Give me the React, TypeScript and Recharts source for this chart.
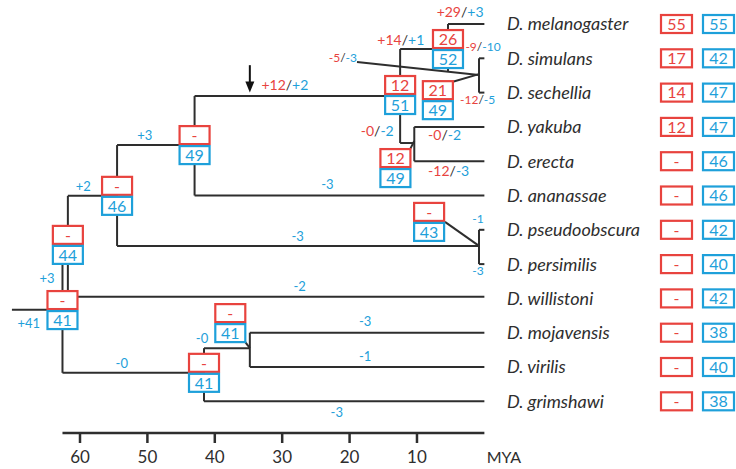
import React from 'react';
import { ComposedChart, XAxis, YAxis, Scatter, ReferenceLine } from 'recharts';

const RED = '#e8433e';
const BLUE = '#1ea0da';
const INK = '#2e2e2e';
const FONT = 'Lato, "Noto Sans", "DejaVu Sans", sans-serif';

// Tips (top to bottom)
const species = [
  'D. melanogaster', 'D. simulans', 'D. sechellia', 'D. yakuba', 'D. erecta',
  'D. ananassae', 'D. pseudoobscura', 'D. persimilis', 'D. willistoni',
  'D. mojavensis', 'D. virilis', 'D. grimshawi',
];
const tipRed = ['55', '17', '14', '12', '-', '-', '-', '-', '-', '-', '-', '-'];
const tipBlue = ['55', '42', '47', '47', '46', '46', '42', '40', '42', '38', '40', '38'];
const tipRows = species.map((_, i) => i);

// time axis (million years ago)
const axisTicks = [60, 50, 40, 30, 20, 10];
const unitTick = -2.9;
const unitLabel = 'MYA';
const rootAge = 62.6;

// tree branches: [ageFrom, rowFrom, ageTo, rowTo]
const branches: [number, number, number, number][] = [
  [70.1, 8.33, 62.6, 8.33],
  [62.6, 6.44, 62.6, 10.17],
  [61.8, 5.01, 61.8, 7.95],
  [62.6, 7.95, 0, 7.95],
  [61.8, 5.01, 54.5, 5.01],
  [54.5, 3.53, 54.5, 6.47],
  [54.5, 6.47, 0.8, 6.47],
  [0.8, 6, 0.8, 7],
  [0.8, 6, 0, 6],
  [0.8, 7, 0, 7],
  [54.5, 3.53, 43.0, 3.53],
  [43.0, 2.1, 43.0, 5],
  [43.0, 5, 0, 5],
  [43.0, 2.1, 12.5, 2.1],
  [12.5, 0.73, 12.5, 3.47],
  [12.5, 3.47, 10.4, 3.47],
  [10.4, 3, 10.4, 4],
  [10.4, 3, 0, 3],
  [10.4, 4, 0, 4],
  [12.5, 0.73, 5.4, 0.73],
  [5.4, 0, 5.4, 1.4],
  [5.4, 0, 0, 0],
  [18.9, 1.11, 0.8, 1.49],
  [0.8, 1, 0.8, 2],
  [0.8, 1, 0, 1],
  [0.8, 2, 0, 2],
  [4.8, 1.69, 0.8, 1.46],
  [11.0, 3.64, 10.4, 3.41],
  [5.85, 5.77, 0.8, 6.47],
  [62.6, 10.17, 41.6, 10.17],
  [41.6, 9.45, 41.6, 11],
  [41.6, 11, 0, 11],
  [41.6, 9.45, 34.8, 9.45],
  [34.8, 9, 34.8, 10],
  [34.8, 9, 0, 9],
  [34.8, 10, 0, 10],
  [35.5, 9.27, 34.8, 9.45],
];

// marker arrow
const arrowAge = 34.8;
const arrowFrom = 1.2;
const arrowTo = 2.0;

// internal node boxes: gains (red) / counts (blue)
const nodeAges = [62.6, 61.8, 54.5, 43.0, 41.6, 37.7, 12.5, 13.2, 5.4, 6.9, 8.2];
const nodeRows = [8.34, 6.44, 5.01, 3.53, 10.17, 8.72, 2.07, 4.2, 0.73, 2.22, 5.77];
const nodeRed = ['-', '-', '-', '-', '-', '-', '12', '12', '26', '21', '-'];
const nodeBlue = ['41', '44', '46', '49', '41', '41', '51', '49', '52', '49', '43'];

// branch change labels (red / blue pairs)
const pairAges = [3.6, 12.4, 29.6, 15.9, 5.9, 5.3];
const pairRows = [-0.35, 0.47, 1.78, 3.12, 3.24, 4.29];
const pairRed = ['+29', '+14', '+12', '-0', '-0', '-12'];
const pairBlue = ['+3', '+1', '+2', '-2', '-2', '-3'];

const smallPairAges = [0.2, 21.0, 1.0];
const smallPairRows = [0.67, 0.99, 2.22];
const smallPairRed = ['-9', '-5', '-12'];
const smallPairBlue = ['-10', '-3', '-5'];

// blue-only labels
const blueAges = [50.4, 59.5, 23.3, 27.7, 27.4, 64.9, 67.6, 53.8, 41.9, 17.7, 17.7, 21.9];
const blueRows = [3.24, 4.72, 4.66, 6.18, 7.64, 7.41, 8.72, 9.88, 9.15, 8.66, 9.68, 11.31];
const blueText = ['+3', '+2', '-3', '-3', '-2', '+3', '+41', '-0', '-0', '-3', '-1', '-3'];

const tinyBlueAges = [0.95, 0.95];
const tinyBlueRows = [5.69, 7.2];
const tinyBlueText = ['-1', '-3'];

const X_DOMAIN: [number, number] = [-3.06, 71.87];
const Y_DOMAIN: [number, number] = [-0.7, 11.924];

const nodeData = nodeAges.map((x, i) => ({ x, y: nodeRows[i], red: nodeRed[i], blue: nodeBlue[i] }));
const pairData = pairAges.map((x, i) => ({ x, y: pairRows[i], red: pairRed[i], blue: pairBlue[i] }));
const smallPairData = smallPairAges.map((x, i) => ({ x, y: smallPairRows[i], red: smallPairRed[i], blue: smallPairBlue[i] }));
const blueData = blueAges.map((x, i) => ({ x, y: blueRows[i], text: blueText[i] }));
const tinyBlueData = tinyBlueAges.map((x, i) => ({ x, y: tinyBlueRows[i], text: tinyBlueText[i] }));
const arrowData = [{ x: arrowAge, y: arrowTo }];

const NodeBox = (p: any) => {
  const { cx, cy, payload } = p;
  if (cx == null || cy == null) return null;
  return (
    <g>
      <rect x={cx - 15} y={cy - 19} width={30} height={18} fill="#fff" stroke={RED} strokeWidth={2.2} />
      <rect x={cx - 15} y={cy + 1} width={30} height={18} fill="#fff" stroke={BLUE} strokeWidth={2.2} />
      <text x={cx} y={cy - 10} dy="0.36em" textAnchor="middle" fontSize={16} fill={RED} fontFamily={FONT}>{payload.red}</text>
      <text x={cx} y={cy + 10} dy="0.36em" textAnchor="middle" fontSize={16} fill={BLUE} fontFamily={FONT}>{payload.blue}</text>
    </g>
  );
};

const makePair = (size: number) => (p: any) => {
  const { cx, cy, payload } = p;
  if (cx == null || cy == null) return null;
  return (
    <text x={cx} y={cy} dy="0.36em" textAnchor="middle" fontSize={size} fontFamily={FONT}>
      <tspan fill={RED}>{payload.red}</tspan>
      <tspan fill={INK}>/</tspan>
      <tspan fill={BLUE}>{payload.blue}</tspan>
    </text>
  );
};

const makeBlue = (size: number) => (p: any) => {
  const { cx, cy, payload } = p;
  if (cx == null || cy == null) return null;
  return (
    <text x={cx} y={cy} dy="0.36em" textAnchor="middle" fontSize={size} fill={BLUE} fontFamily={FONT}>{payload.text}</text>
  );
};

const ArrowHead = (p: any) => {
  const { cx, cy } = p;
  if (cx == null || cy == null) return null;
  return <path d={`M${cx - 4.5},${cy - 11} L${cx + 4.5},${cy - 11} L${cx},${cy} Z`} fill="#111" />;
};

const SpeciesTick = (props: any) => {
  const { x, y, payload } = props;
  const i = payload.value;
  if (species[i] == null) return null;
  return (
    <g>
      <text x={x} y={y} dy="0.36em" fontSize={18} fontStyle="italic" fill={INK} fontFamily={FONT}>{species[i]}</text>
      <rect x={x + 154} y={y - 9} width={31} height={18} fill="#fff" stroke={RED} strokeWidth={2.2} />
      <text x={x + 169.5} y={y} dy="0.36em" textAnchor="middle" fontSize={16} fill={RED} fontFamily={FONT}>{tipRed[i]}</text>
      <rect x={x + 196} y={y - 9} width={31} height={18} fill="#fff" stroke={BLUE} strokeWidth={2.2} />
      <text x={x + 211.5} y={y} dy="0.36em" textAnchor="middle" fontSize={16} fill={BLUE} fontFamily={FONT}>{tipBlue[i]}</text>
    </g>
  );
};

const TimeTick = (props: any) => {
  const { x, y, payload } = props;
  const v = payload.value;
  if (v < 0) {
    return <text x={x} y={y + 30} textAnchor="middle" fontSize={16} fill={INK} fontFamily={FONT}>{unitLabel}</text>;
  }
  return (
    <g>
      <line x1={x} y1={y} x2={x} y2={y + 10} stroke={INK} strokeWidth={2.5} />
      <text x={x} y={y + 30} textAnchor="middle" fontSize={17} fill={INK} fontFamily={FONT}>{v}</text>
    </g>
  );
};

export default function App() {
  return (
    <div style={{ position: 'absolute', left: 0, top: 0, width: 736, height: 469, background: '#fff' }}>
      <ComposedChart width={736} height={469} margin={{ top: 0, right: 0, bottom: 0, left: 0 }}>
        <XAxis
          dataKey="x"
          type="number"
          domain={X_DOMAIN}
          reversed
          ticks={[...axisTicks, unitTick]}
          interval={0}
          height={36}
          axisLine={false}
          tickLine={false}
          tickSize={0}
          tickMargin={0}
          tick={<TimeTick />}
        />
        <YAxis
          dataKey="y"
          type="number"
          orientation="right"
          domain={Y_DOMAIN}
          reversed
          width={231}
          ticks={tipRows}
          interval={0}
          axisLine={false}
          tickLine={false}
          tickSize={0}
          tickMargin={2}
          tick={<SpeciesTick />}
        />
        <ReferenceLine
          segment={[{ x: rootAge, y: Y_DOMAIN[1] }, { x: 0, y: Y_DOMAIN[1] }]}
          stroke={INK}
          strokeWidth={2.5}
          ifOverflow="visible"
        />
        {branches.map((b, i) => (
          <ReferenceLine
            key={i}
            segment={[{ x: b[0], y: b[1] }, { x: b[2], y: b[3] }]}
            stroke={INK}
            strokeWidth={2}
            ifOverflow="visible"
          />
        ))}
        <ReferenceLine
          segment={[{ x: arrowAge, y: arrowFrom }, { x: arrowAge, y: arrowTo - 0.2 }]}
          stroke="#111"
          strokeWidth={2}
          ifOverflow="visible"
        />
        <Scatter data={arrowData} shape={ArrowHead} isAnimationActive={false} />
        <Scatter data={nodeData} shape={NodeBox} isAnimationActive={false} />
        <Scatter data={pairData} shape={makePair(14)} isAnimationActive={false} />
        <Scatter data={smallPairData} shape={makePair(12)} isAnimationActive={false} />
        <Scatter data={blueData} shape={makeBlue(13)} isAnimationActive={false} />
        <Scatter data={tinyBlueData} shape={makeBlue(12)} isAnimationActive={false} />
      </ComposedChart>
    </div>
  );
}
